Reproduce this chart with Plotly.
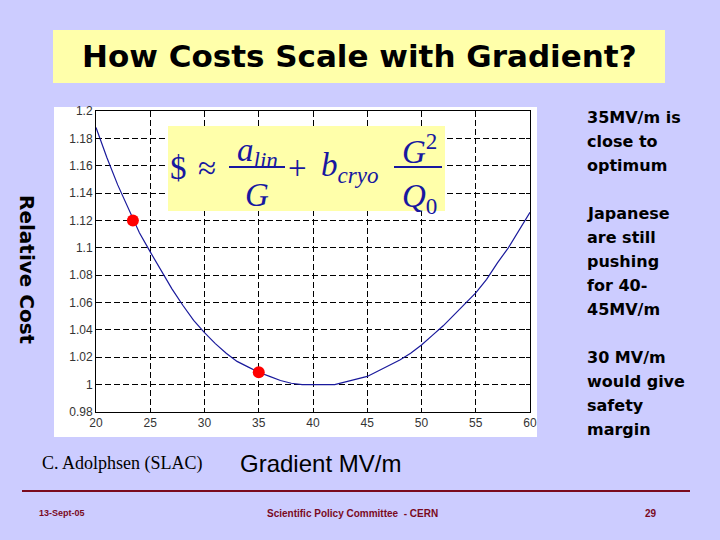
import plotly.graph_objects as go

# ---- data ----
gradient = [20, 21, 22, 23, 24, 25, 26, 27, 28, 29, 30, 31, 32, 33, 34, 35, 36, 37, 38, 39,
            40, 41, 42, 43, 44, 45, 46, 47, 48, 49, 50, 51, 52, 53, 54, 55, 56, 57, 58, 59, 60]
relative_cost = [1.188, 1.166, 1.146, 1.128, 1.111, 1.097, 1.083, 1.070, 1.058, 1.047, 1.038,
                 1.030, 1.023, 1.017, 1.013, 1.009, 1.006, 1.003, 1.001, 1.000,
                 1.000, 1.000, 1.000, 1.002, 1.004, 1.006, 1.010, 1.014, 1.018, 1.023,
                 1.029, 1.036, 1.043, 1.051, 1.059, 1.067, 1.077, 1.089, 1.100, 1.113, 1.126]
marked_gradient = [23.4, 35]
marked_cost = [1.12, 1.009]
x_ticks = [20, 25, 30, 35, 40, 45, 50, 55, 60]
y_ticks = [0.98, 1.0, 1.02, 1.04, 1.06, 1.08, 1.1, 1.12, 1.14, 1.16, 1.18, 1.2]
y_tick_labels = ["0.98", "1", "1.02", "1.04", "1.06", "1.08", "1.1", "1.12", "1.14", "1.16", "1.18", "1.2"]
note_1 = ["35MV/m is", "close to", "optimum"]
note_2 = ["Japanese", "are still", "pushing", "for 40-", "45MV/m"]
note_3 = ["30 MV/m", "would give", "safety", "margin"]

# plot area in pixels
L, R, T, B = 96, 530, 111, 412
W, H = 720, 540


def px(x):
    return (x - L) / (R - L)


def py(y):
    return (B - y) / (B - T)


fig = go.Figure()
fig.add_trace(go.Scatter(x=gradient, y=relative_cost, mode="lines",
                         line=dict(color="#1a1a9c", width=1.2), hoverinfo="skip"))
fig.add_trace(go.Scatter(x=marked_gradient, y=marked_cost, mode="markers",
                         marker=dict(color="#ff0000", size=12), hoverinfo="skip"))

shapes = []
# white figure background
shapes.append(dict(type="rect", xref="paper", yref="paper", x0=px(54), x1=px(537), y0=py(437), y1=py(107),
                   fillcolor="white", line=dict(width=0), layer="below"))
# title box
shapes.append(dict(type="rect", xref="paper", yref="paper", x0=px(53), x1=px(665), y0=py(83), y1=py(30),
                   fillcolor="#FFFFAA", line=dict(width=0), layer="above"))
# formula box
shapes.append(dict(type="rect", xref="paper", yref="paper", x0=px(168), x1=px(445), y0=py(211), y1=py(126),
                   fillcolor="#FFFFAA", line=dict(width=0), layer="above"))
formula_blue = "#1818a0"
# fraction bars
shapes.append(dict(type="line", xref="paper", yref="paper", x0=px(229), x1=px(285), y0=py(167), y1=py(167),
                   line=dict(color=formula_blue, width=2)))
shapes.append(dict(type="line", xref="paper", yref="paper", x0=px(394), x1=px(442), y0=py(167), y1=py(167),
                   line=dict(color=formula_blue, width=2)))
# footer line
shapes.append(dict(type="line", xref="paper", yref="paper", x0=px(22), x1=px(690), y0=py(491), y1=py(491),
                   line=dict(color="#7a0a1e", width=2)))

ann = []


def add_text(text, x, y, size, color="black", family="Liberation Sans", xanchor="center",
             yanchor="middle", align="center", angle=0):
    ann.append(dict(text=text, x=px(x), y=py(y), xref="paper", yref="paper", showarrow=False,
                    xanchor=xanchor, yanchor=yanchor, align=align, textangle=angle,
                    font=dict(size=size, color=color, family=family)))


add_text("<b>How Costs Scale with Gradient?</b>", 359, 56, 31, family="DejaVu Sans")
serif = "Liberation Serif"
add_text("$", 178, 168, 33, formula_blue, serif)
add_text("≈", 207, 168, 33, formula_blue, serif)
add_text("<i>a</i><sub><i>lin</i></sub>", 257, 152, 33, formula_blue, serif)
add_text("<i>G</i>", 257, 195, 33, formula_blue, serif)
add_text("+", 297, 168, 33, formula_blue, serif)
add_text("<i>b</i><sub><i>cryo</i></sub>", 350, 167, 33, formula_blue, serif)
add_text("<i>G</i><sup>2</sup>", 419, 149, 33, formula_blue, serif)
add_text("<i>Q</i><sub>0</sub>", 419, 198, 33, formula_blue, serif)

for i, line in enumerate(note_1):
    add_text("<b>" + line + "</b>", 585, 117 + 24 * i, 16, family="DejaVu Sans", xanchor="left", align="left")
for i, line in enumerate(note_2):
    add_text("<b>" + line + "</b>", 585, 213 + 24 * i, 16, family="DejaVu Sans", xanchor="left", align="left")
for i, line in enumerate(note_3):
    add_text("<b>" + line + "</b>", 585, 357 + 24 * i, 16, family="DejaVu Sans", xanchor="left", align="left")

add_text("<b>Relative Cost</b>", 27, 270, 20, family="DejaVu Sans", angle=90)
add_text("C. Adolphsen (SLAC)", 122, 463, 18, family=serif)
add_text("Gradient MV/m", 320, 463, 24)

footer_red = "#7a0a1e"
add_text("<b>13-Sept-05</b>", 62, 513, 9, footer_red)
add_text("<b>Scientific Policy Committee  - CERN</b>", 352, 513, 10, footer_red)
add_text("<b>29</b>", 651, 513, 10, footer_red)

fig.update_layout(
    width=W, height=H,
    margin=dict(l=L, r=W - R, t=T, b=H - B, pad=0),
    paper_bgcolor="#CCCCFF", plot_bgcolor="white",
    showlegend=False,
    shapes=shapes, annotations=ann,
    xaxis=dict(range=[20, 60], tickvals=x_ticks, ticks="inside", ticklen=4, tickcolor="black",
               showgrid=True, gridcolor="black", griddash="6px,3px", gridwidth=1,
               showline=True, linecolor="black", linewidth=1, mirror="ticks", zeroline=False,
               tickfont=dict(size=12, color="#333333", family="Liberation Sans")),
    yaxis=dict(range=[0.98, 1.2], tickvals=y_ticks, ticktext=y_tick_labels, ticks="inside", ticklen=4,
               tickcolor="black", showgrid=True, gridcolor="black", griddash="6px,3px", gridwidth=1,
               showline=True, linecolor="black", linewidth=1, mirror="ticks", zeroline=False,
               tickfont=dict(size=12, color="#333333", family="Liberation Sans")),
)

fig.write_html("out.html", config={"displayModeBar": False},
               post_script="document.body.style.margin='0';document.body.style.background='#CCCCFF';")
